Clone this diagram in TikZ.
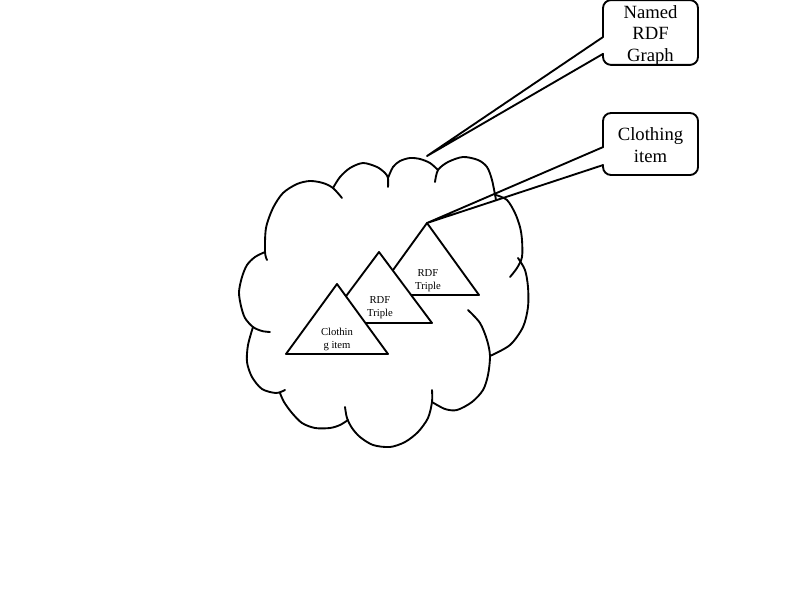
\documentclass[tikz,border=0pt]{standalone}
\usepackage{fontspec}
\setmainfont{Liberation Serif}
\usetikzlibrary{calc}
\begin{document}
\begin{tikzpicture}[x=0.75pt,y=-0.75pt,line join=round,line cap=round]

    \tikzset{
      outline/.style={
        black,
        line width=1.4pt,
      },
      tri/.style={
        outline,
        fill=white,
      },
      trilabel/.style={
        align=center,
        font=\fontsize{8}{9.5}\selectfont,
        inner sep=0pt,
      },
      boxlabel/.style={
        font=\fontsize{14}{16.2}\selectfont,
        minimum width=71.25pt,
        inner sep=0pt,
        outer sep=0pt,
      },
    }
    \newcommand{\boxtext}[1]{\raisebox{-2.2pt}[\height][\depth]{\begin{tabular}{@{}c@{}}#1\end{tabular}}}
    \useasboundingbox (0,0) rectangle (800,600);

	% cloud
	\draw[outline] plot[smooth] coordinates {(267,260) (265,252) (266,228) (273,208) (283,193) (297,184) (310,181) (323,183) (333,188) (342,198)};
	\draw[outline] plot[smooth] coordinates {(333,188) (340,177) (350,168) (363,163) (377,167) (385,173) (388,178) (388,187)};
	\draw[outline] plot[smooth] coordinates {(388,178) (393,167) (400,161) (410,158) (420,159) (430,163) (438,170)};
	\draw[outline] plot[smooth] coordinates {(435,182) (438,170) (448,162) (463,157) (478,160) (487,167) (492,180) (496,200)};
	\draw[outline] plot[smooth] coordinates {(496,195) (507,200) (515,213) (520,227) (522,240) (522,257) (517,268) (510,277)};
	\draw[outline] plot[smooth] coordinates {(518,258) (525,270) (528,287) (528,307) (523,327) (510,345) (490,356)};
	\draw[outline] plot[smooth] coordinates {(468,310) (480,323) (487,340) (490,356) (488,375) (483,390) (472,402) (457,410) (445,409) (432,402)};
	\draw[outline] plot[smooth] coordinates {(432,390) (432,402) (428,418) (418,432) (405,442) (390,447) (373,445) (360,437) (352,428) (347,418) (345,407)};
	\draw[outline] plot[smooth] coordinates {(348,420) (340,425) (330,428) (315,428) (302,423) (292,413) (284,402) (280,393)};
	\draw[outline] plot[smooth] coordinates {(285,390) (276,393) (262,389) (252,377) (247,362) (248,345) (253,327)};
	\draw[outline] plot[smooth] coordinates {(270,332) (262,331) (253,327) (245,318) (241,306) (239,292) (242,277) (247,265) (255,257) (265,252)};

	% triples
	\coordinate (t3) at (427,223);
	\coordinate (t2) at (379,252);
	\coordinate (t1) at (337,284);
	\draw[tri] (t3) -- ++(52,72) -- ++(-104,0) -- cycle;
	\node[trilabel] (triple2) at (428,280.5) {RDF\\Triple};
	\draw[tri] (t2) -- ++(53,71) -- ++(-106,0) -- cycle;
	\node[trilabel] (triple1) at (380,307.5) {RDF\\Triple};
	\draw[tri] (t1) -- ++(51,70) -- ++(-102,0) -- cycle;
	\node[trilabel] (item) at (337,339.5) {Clothin\\g item};

	% callouts
	\coordinate (graphtip) at (427,156);
	\node[boxlabel,minimum height=47.25pt] (named) at (650.5,32.5) {\boxtext{Named\\RDF\\Graph}};
	\node[boxlabel,minimum height=46.5pt] (clothing) at (650.5,144) {\boxtext{Clothing\\item}};
	\coordinate (named-a) at ($(named.north west)!0.57!(named.south west)$);
	\coordinate (named-b) at ($(named.north west)!0.83!(named.south west)$);
	\coordinate (clothing-a) at ($(clothing.north west)!0.55!(clothing.south west)$);
	\coordinate (clothing-b) at ($(clothing.north west)!0.84!(clothing.south west)$);
	\draw[outline,rounded corners=6pt] (named-b) -- (named.south west) -- (named.south east) -- (named.north east) -- (named.north west) -- (named-a);
	\draw[outline] (named-a) -- (graphtip) -- (named-b);
	\draw[outline,rounded corners=6pt] (clothing-b) -- (clothing.south west) -- (clothing.south east) -- (clothing.north east) -- (clothing.north west) -- (clothing-a);
	\draw[outline] (clothing-a) -- (t3) -- (clothing-b);

\end{tikzpicture}
\end{document}
